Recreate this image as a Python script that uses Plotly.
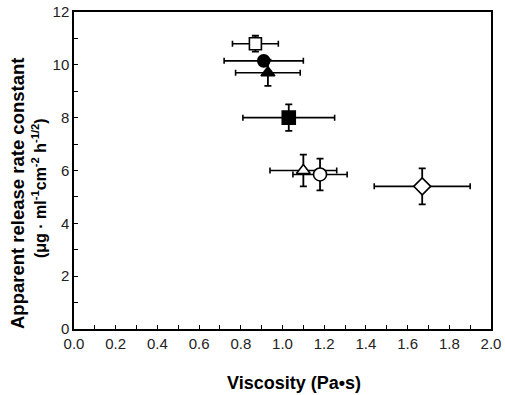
import plotly.graph_objects as go

visc = [0.87, 0.91, 0.93, 1.03, 1.10, 1.18, 1.67]
rate = [10.8, 10.15, 9.7, 8.0, 6.0, 5.85, 5.4]
visc_err = [0.11, 0.19, 0.155, 0.22, 0.16, 0.13, 0.23]
rate_err = [0.3, 0.15, 0.5, 0.5, 0.6, 0.6, 0.68]
symbols = ["square-open", "circle", "triangle-up", "square", "triangle-up-open", "circle-open", "diamond-open"]
sizes = [12, 12, 12, 13, 12, 13, 13]

x_ticks = [0.0, 0.2, 0.4, 0.6, 0.8, 1.0, 1.2, 1.4, 1.6, 1.8, 2.0]
x_labels = ["0.0", "0.2", "0.4", "0.6", "0.8", "1.0", "1.2", "1.4", "1.6", "1.8", "2.0"]
y_ticks = [0, 2, 4, 6, 8, 10, 12]

fig = go.Figure()
for i in range(len(visc)):
    sym = symbols[i]
    is_open = sym.endswith("-open")
    base = sym.replace("-open", "")
    fig.add_trace(go.Scatter(
        x=[visc[i]], y=[rate[i]], mode="markers",
        marker=dict(symbol=base, size=sizes[i],
                    color="white" if is_open else "black",
                    line=dict(color="black", width=1.6)),
        error_x=dict(type="data", array=[visc_err[i]], color="black", thickness=1.6, width=3),
        error_y=dict(type="data", array=[rate_err[i]], color="black", thickness=1.8, width=3.5),
        showlegend=False,
    ))

tick_font = dict(family="Liberation Sans, Arial, sans-serif", size=15, color="#222")
L, R, T, B = 74, 491, 12, 329
W, H = R - L, B - T
fig.update_layout(
    width=505, height=395,
    margin=dict(l=L, r=505 - R, t=T, b=395 - B),
    plot_bgcolor="white", paper_bgcolor="white",
    xaxis=dict(range=[0, 2.0], tickvals=x_ticks, ticktext=x_labels,
               ticks="inside", ticklen=4, tickwidth=1, tickcolor="black",
               minor=dict(ticks="inside", dtick=0.1, tick0=0, ticklen=4, tickcolor="black"),
               showline=True, linecolor="black", linewidth=1.5, mirror=True,
               showgrid=False, zeroline=False, tickfont=tick_font, automargin=False),
    yaxis=dict(range=[0, 12], tickvals=y_ticks,
               ticks="inside", ticklen=4, tickwidth=1, tickcolor="black",
               minor=dict(ticks="inside", dtick=1, tick0=0, ticklen=4, tickcolor="black"),
               showline=True, linecolor="black", linewidth=1.5, mirror=True,
               showgrid=False, zeroline=False, tickfont=tick_font, automargin=False),
    annotations=[
        dict(text="<b>Viscosity (Pa•s)</b>", xref="paper", yref="paper",
             x=(294 - L) / W, y=-(383 - B) / H, xanchor="center", yanchor="middle",
             showarrow=False, font=dict(family="Liberation Sans, Arial", size=18, color="black")),
        dict(text="<b>Apparent release rate constant</b>", xref="paper", yref="paper",
             x=-(L - 17) / W, y=(B - 194) / H, xanchor="center", yanchor="middle",
             textangle=-90, showarrow=False,
             font=dict(family="Liberation Sans, Arial", size=18.5, color="black")),
        dict(text="<b>(μg · ml<sup>-1</sup>cm<sup>-2</sup> h<sup>-1/2</sup>)</b>", xref="paper", yref="paper",
             x=-(L - 39) / W, y=(B - 188) / H, xanchor="center", yanchor="middle",
             textangle=-90, showarrow=False,
             font=dict(family="Liberation Sans, Arial", size=16, color="black")),
    ],
)
fig.write_html("out.html")
